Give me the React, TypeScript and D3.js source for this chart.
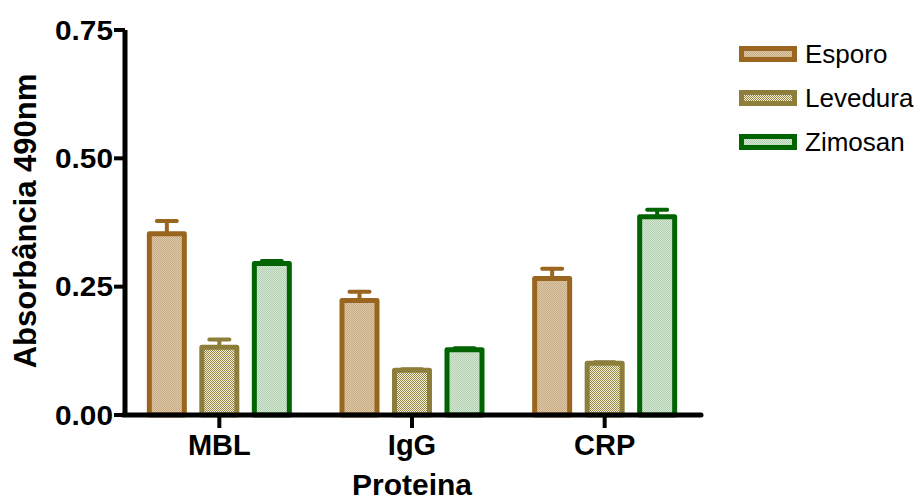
import React, { useEffect, useRef } from "react";
import * as d3 from "d3";

const proteins = ["MBL", "IgG", "CRP"];
const series = ["Esporo", "Levedura", "Zimosan"];
const esporo = [0.353, 0.223, 0.266];
const levedura = [0.132, 0.087, 0.101];
const zimosan = [0.295, 0.127, 0.386];
const esporoErr = [0.025, 0.017, 0.019];
const levaduraErr = [0.015, 0.002, 0.002];
const zimosanErr = [0.005, 0.003, 0.014];
const yTicks = [0, 0.25, 0.5, 0.75];

const strokeCol = ["#9a661f", "#8d7e3c", "#006400"];
const patA = ["#c9ab82", "#968745", "#b0d0b0"];
const patB = ["#ddc9a9", "#f4f0dc", "#d6e7d6"];

const App = () => {
  const ref = useRef<SVGSVGElement>(null);

  useEffect(() => {
    const svg = d3.select(ref.current);
    svg.selectAll("*").remove();

    const values = [esporo, levedura, zimosan];
    const errs = [esporoErr, levaduraErr, zimosanErr];

    const y = d3.scaleLinear().domain([0, 0.75]).range([415, 30]);
    const x = d3.scaleBand().domain(proteins).range([123, 701]);
    const xs = d3.scalePoint().domain(series).range([-52.5, 52.5]);
    const barW = 35;

    const defs = svg.append("defs");
    series.forEach((s, i) => {
      const p = defs.append("pattern").attr("id", "pat" + i)
        .attr("width", 2).attr("height", 2).attr("patternUnits", "userSpaceOnUse");
      p.append("rect").attr("width", 2).attr("height", 2).attr("fill", patB[i]);
      p.append("rect").attr("width", 1).attr("height", 1).attr("fill", patA[i]);
      p.append("rect").attr("x", 1).attr("y", 1).attr("width", 1).attr("height", 1).attr("fill", patA[i]);
    });

    // bars + error bars
    series.forEach((s, si) => {
      const g = svg.append("g");
      proteins.forEach((pr, pi) => {
        const cx = x(pr)! + x.bandwidth() / 2 + xs(s)!;
        const v = values[si][pi];
        const e = errs[si][pi];
        g.append("line").attr("x1", cx).attr("x2", cx).attr("y1", y(v)).attr("y2", y(v + e))
          .attr("stroke", strokeCol[si]).attr("stroke-width", 4);
        g.append("line").attr("x1", cx - 10).attr("x2", cx + 10).attr("y1", y(v + e)).attr("y2", y(v + e))
          .attr("stroke", strokeCol[si]).attr("stroke-width", 4).attr("stroke-linecap", "round");
        g.append("rect").attr("x", cx - barW / 2).attr("y", y(v)).attr("width", barW).attr("height", y(0) - y(v))
          .attr("fill", `url(#pat${si})`).attr("stroke", strokeCol[si]).attr("stroke-width", 5)
          .attr("stroke-linejoin", "round");
      });
    });

    const font = "'Liberation Sans', Arial, sans-serif";

    // y axis
    const ya = svg.append("g");
    ya.append("line").attr("x1", 125).attr("x2", 125).attr("y1", y(0.75)).attr("y2", y(0) + 2)
      .attr("stroke", "#000").attr("stroke-width", 5);
    yTicks.forEach((t) => {
      ya.append("line").attr("x1", 114).attr("x2", 125).attr("y1", y(t)).attr("y2", y(t))
        .attr("stroke", "#000").attr("stroke-width", 4);
      ya.append("text").attr("x", 113).attr("y", y(t) + 9.5).attr("text-anchor", "end")
        .attr("font-family", font).attr("font-weight", "bold").attr("font-size", 27)
        .attr("textLength", 58).attr("lengthAdjust", "spacingAndGlyphs")
        .text(d3.format(".2f")(t));
    });

    // x axis
    const xa = svg.append("g");
    xa.append("line").attr("x1", 123).attr("x2", 701).attr("y1", y(0)).attr("y2", y(0))
      .attr("stroke", "#000").attr("stroke-width", 5).attr("stroke-linecap", "round");
    proteins.forEach((pr) => {
      const cx = x(pr)! + x.bandwidth() / 2;
      xa.append("line").attr("x1", cx).attr("x2", cx).attr("y1", y(0)).attr("y2", y(0) + 13)
        .attr("stroke", "#000").attr("stroke-width", 4);
      xa.append("text").attr("x", cx).attr("y", 455).attr("text-anchor", "middle")
        .attr("font-family", font).attr("font-weight", "bold").attr("font-size", 29)
        .text(pr);
    });

    svg.append("text").attr("x", 412).attr("y", 495).attr("text-anchor", "middle")
      .attr("font-family", font).attr("font-weight", "bold").attr("font-size", 30)
      .text("Proteina");

    svg.append("text").attr("transform", "translate(36,221) rotate(-90)").attr("text-anchor", "middle")
      .attr("font-family", font).attr("font-weight", "bold").attr("font-size", 31)
      .text("Absorbância 490nm");

    // legend
    const lg = svg.append("g");
    series.forEach((s, i) => {
      const cy = 54 + i * 44;
      lg.append("rect").attr("x", 741.5).attr("y", cy - 5.5).attr("width", 53).attr("height", 11)
        .attr("fill", `url(#pat${i})`).attr("stroke", strokeCol[i]).attr("stroke-width", 5);
      lg.append("text").attr("x", 805).attr("y", cy + 9).attr("font-family", font)
        .attr("font-size", 26).text(s);
    });
  }, []);

  return (
    <svg ref={ref} width={920} height={502}
      style={{ position: "absolute", left: 0, top: 0, background: "#fff" }} />
  );
};

export default App;
